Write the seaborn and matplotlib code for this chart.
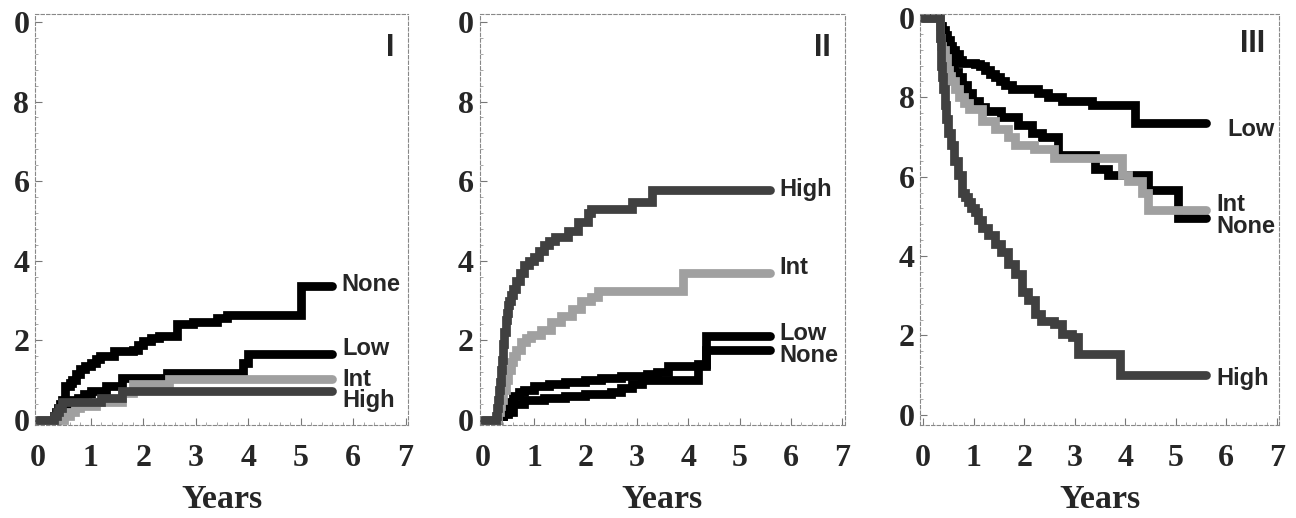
import matplotlib
matplotlib.use("Agg")
import matplotlib.pyplot as plt
import seaborn as sns
from matplotlib.ticker import MultipleLocator

sns.set_style("white")
plt.rcParams["font.family"] = ["Liberation Serif", "DejaVu Serif"]

# ---- data (years, cumulative fraction) ----
# Panel I
i_none_t = [0, 0.30, 0.34, 0.38, 0.42, 0.45, 0.52, 0.6, 0.65, 0.72, 0.8, 0.9, 1.0, 1.1, 1.18, 1.45, 1.8, 1.9, 2.0, 2.15, 2.3, 2.65, 2.95, 3.4, 3.6, 5.0, 5.6]
i_none_s = [0, 0.01, 0.02, 0.03, 0.04, 0.05, 0.085, 0.093, 0.10, 0.115, 0.127, 0.135, 0.144, 0.152, 0.16, 0.173, 0.177, 0.188, 0.198, 0.205, 0.21, 0.24, 0.246, 0.255, 0.265, 0.336, 0.336]
i_low_t = [0, 0.35, 0.42, 0.5, 0.62, 0.75, 0.88, 1.0, 1.3, 1.6, 2.45, 3.9, 4.0, 5.6]
i_low_s = [0, 0.015, 0.03, 0.04, 0.05, 0.056, 0.065, 0.073, 0.085, 0.106, 0.119, 0.144, 0.167, 0.167]
i_int_t = [0, 0.5, 0.6, 0.7, 0.8, 1.1, 1.6, 1.8, 2.5, 5.6]
i_int_s = [0, 0.01, 0.02, 0.03, 0.035, 0.044, 0.069, 0.09, 0.102, 0.102]
i_high_t = [0, 0.3, 0.36, 0.4, 0.45, 1.2, 1.6, 5.6]
i_high_s = [0, 0.01, 0.02, 0.03, 0.044, 0.056, 0.073, 0.073]

# Panel II
ii_high_t = [0, 0.26, 0.28, 0.3, 0.32, 0.33, 0.36, 0.38, 0.40, 0.42, 0.45, 0.47, 0.5, 0.52, 0.56, 0.6, 0.65, 0.72, 0.81, 0.9, 1.0, 1.1, 1.2, 1.3, 1.4, 1.66, 1.86, 2.05, 2.1, 2.9, 3.3, 5.6]
ii_high_s = [0, 0.01, 0.03, 0.05, 0.075, 0.095, 0.125, 0.15, 0.19, 0.22, 0.25, 0.27, 0.29, 0.30, 0.315, 0.33, 0.35, 0.37, 0.39, 0.40, 0.41, 0.425, 0.44, 0.45, 0.46, 0.476, 0.497, 0.52, 0.53, 0.548, 0.578, 0.578]
ii_int_t = [0, 0.3, 0.33, 0.36, 0.4, 0.45, 0.5, 0.55, 0.6, 0.65, 0.75, 0.85, 0.94, 1.14, 1.33, 1.53, 1.73, 1.92, 2.1, 2.25, 3.9, 5.6]
ii_int_s = [0, 0.02, 0.035, 0.05, 0.075, 0.10, 0.125, 0.146, 0.16, 0.175, 0.197, 0.205, 0.214, 0.226, 0.247, 0.26, 0.28, 0.30, 0.31, 0.324, 0.37, 0.37]
ii_low_t = [0, 0.3, 0.4, 0.45, 0.52, 0.6, 0.7, 0.8, 1.0, 1.3, 1.6, 2.0, 2.3, 2.7, 3.2, 3.4, 3.6, 4.35, 5.6]
ii_low_s = [0, 0.01, 0.02, 0.03, 0.045, 0.06, 0.07, 0.075, 0.085, 0.09, 0.095, 0.10, 0.105, 0.11, 0.115, 0.12, 0.135, 0.21, 0.21]
ii_none_t = [0, 0.3, 0.4, 0.5, 0.6, 0.8, 1.2, 1.6, 2.0, 2.5, 2.7, 2.9, 3.1, 4.2, 4.35, 5.6]
ii_none_s = [0, 0.01, 0.015, 0.02, 0.04, 0.05, 0.055, 0.06, 0.065, 0.07, 0.08, 0.09, 0.10, 0.14, 0.175, 0.175]

# Panel III
iii_low_t = [0, 0.33, 0.38, 0.43, 0.48, 0.53, 0.58, 0.63, 0.7, 0.76, 1.02, 1.12, 1.22, 1.32, 1.42, 1.52, 1.62, 1.75, 2.28, 2.48, 2.74, 3.34, 4.19, 5.6]
iii_low_s = [1.0, 0.98, 0.97, 0.958, 0.945, 0.93, 0.92, 0.91, 0.895, 0.887, 0.885, 0.878, 0.87, 0.86, 0.85, 0.84, 0.83, 0.82, 0.81, 0.80, 0.79, 0.78, 0.735, 0.735]
iii_none_t = [0, 0.33, 0.36, 0.4, 0.45, 0.5, 0.56, 0.62, 0.68, 0.76, 0.86, 0.96, 1.1, 1.22, 1.55, 1.88, 2.15, 2.35, 2.67, 3.4, 3.67, 4.46, 5.05, 5.6]
iii_none_s = [1.0, 0.98, 0.95, 0.92, 0.91, 0.90, 0.883, 0.865, 0.85, 0.83, 0.81, 0.79, 0.775, 0.765, 0.75, 0.73, 0.71, 0.70, 0.654, 0.62, 0.604, 0.567, 0.496, 0.496]
iii_int_t = [0, 0.33, 0.36, 0.38, 0.43, 0.48, 0.52, 0.56, 0.63, 0.7, 0.8, 0.9, 1.16, 1.42, 1.68, 1.82, 2.2, 2.6, 3.93, 4.06, 4.33, 4.46, 5.6]
iii_int_s = [1.0, 0.95, 0.93, 0.92, 0.90, 0.87, 0.855, 0.84, 0.82, 0.80, 0.785, 0.77, 0.74, 0.72, 0.70, 0.68, 0.67, 0.646, 0.604, 0.59, 0.56, 0.517, 0.517]
iii_high_t = [0, 0.33, 0.345, 0.36, 0.38, 0.4, 0.43, 0.46, 0.5, 0.56, 0.62, 0.69, 0.76, 0.82, 0.89, 0.95, 1.02, 1.09, 1.16, 1.29, 1.42, 1.55, 1.68, 1.82, 1.95, 2.08, 2.21, 2.34, 2.6, 2.74, 2.94, 3.07, 3.9, 5.6]
iii_high_s = [1.0, 0.95, 0.92, 0.88, 0.85, 0.82, 0.78, 0.746, 0.71, 0.68, 0.64, 0.604, 0.56, 0.55, 0.537, 0.52, 0.51, 0.49, 0.47, 0.454, 0.43, 0.41, 0.38, 0.354, 0.31, 0.29, 0.254, 0.237, 0.23, 0.204, 0.196, 0.154, 0.10, 0.10]

BLACK = "#000000"
DARK = "#404040"
LIGHT = "#a0a0a0"

panels = [
    {"name": "I", "ylim": (-0.012, 1.02), "rect": [0.027, 0.18, 0.288, 0.793],
     "curves": [(i_none_t, i_none_s, BLACK), (i_low_t, i_low_s, BLACK),
                (i_int_t, i_int_s, LIGHT), (i_high_t, i_high_s, DARK)],
     "labels": [("None", 5.78, 0.34), ("Low", 5.8, 0.18), ("Int", 5.8, 0.102), ("High", 5.8, 0.048)]},
    {"name": "II", "ylim": (-0.012, 1.02), "rect": [0.370, 0.18, 0.282, 0.793],
     "curves": [(ii_none_t, ii_none_s, BLACK), (ii_low_t, ii_low_s, BLACK),
                (ii_int_t, ii_int_s, LIGHT), (ii_high_t, ii_high_s, DARK)],
     "labels": [("High", 5.78, 0.578), ("Int", 5.78, 0.383), ("Low", 5.78, 0.218), ("None", 5.78, 0.163)]},
    {"name": "III", "ylim": (-0.025, 1.01), "rect": [0.710, 0.18, 0.277, 0.793],
     "curves": [(iii_low_t, iii_low_s, BLACK), (iii_none_t, iii_none_s, BLACK),
                (iii_int_t, iii_int_s, LIGHT), (iii_high_t, iii_high_s, DARK)],
     "labels": [("Low", 6.03, 0.72), ("Int", 5.81, 0.53), ("None", 5.81, 0.475), ("High", 5.81, 0.092)]},
]

yticks = [0, 0.2, 0.4, 0.6, 0.8, 1.0]
ytick_labels = ["0", "2", "4", "6", "8", "0"]
xticks = [0, 1, 2, 3, 4, 5, 6, 7]

fig = plt.figure(figsize=(12.96, 5.18), dpi=100)

for p in panels:
    ax = fig.add_axes(p["rect"])
    for t, s, c in p["curves"]:
        sns.lineplot(x=t, y=s, ax=ax, color=c, linewidth=6.3, drawstyle="steps-post",
                     estimator=None, sort=False, solid_capstyle="round",
                     solid_joinstyle="miter")
    for txt, x, y in p["labels"]:
        ax.text(x, y, txt, fontsize=17, fontweight="bold", va="center", ha="left",
                family=["Liberation Sans", "DejaVu Sans"])
    ax.text(6.78, 0.935, p["name"], fontsize=22, fontweight="bold", ha="right", va="center",
            family=["Liberation Sans", "DejaVu Sans"])

    ax.set_xlim(-0.06, 7.05)
    ax.set_ylim(*p["ylim"])
    ax.set_xticks(xticks)
    ax.set_xticklabels([str(v) for v in xticks], fontsize=23, fontweight="bold")
    ax.set_yticks(yticks)
    ax.set_yticklabels(ytick_labels, fontsize=23, fontweight="bold")
    ax.xaxis.set_minor_locator(MultipleLocator(0.2))
    ax.yaxis.set_minor_locator(MultipleLocator(0.04))
    ax.tick_params(axis="both", which="major", direction="in", length=5, width=0.8,
                   color="#777777", bottom=True, left=True)
    ax.tick_params(axis="both", which="minor", direction="in", length=2.5, width=0.6,
                   color="#999999", bottom=True, left=True)
    ax.tick_params(axis="x", which="major", pad=14)
    ax.tick_params(axis="y", which="major", pad=4)
    ax.set_xlabel("Years", fontsize=24.5, fontweight="bold", labelpad=8)
    ax.set_ylabel("")
    for sp in ax.spines.values():
        sp.set_color("#888888")
        sp.set_linewidth(0.8)
        sp.set_linestyle((0, (3, 2)))
    ax.grid(False)

fig.savefig("out.png", dpi=100)
